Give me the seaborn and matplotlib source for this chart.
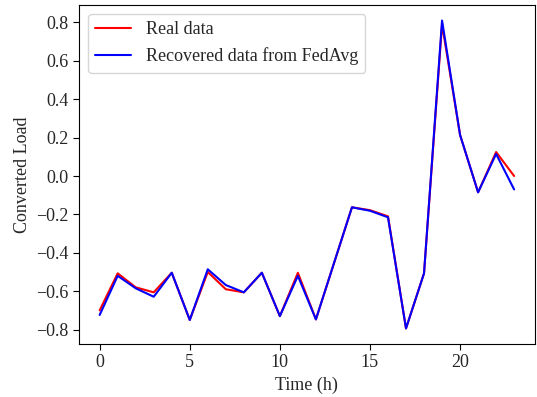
import numpy as np
import pandas as pd
import matplotlib
matplotlib.use("Agg")
import matplotlib.pyplot as plt
import seaborn as sns

hours = list(range(24))
real_data = [-0.70, -0.507, -0.58, -0.606, -0.504, -0.75, -0.50, -0.59, -0.606, -0.504,
             -0.73, -0.504, -0.747, -0.455, -0.163, -0.178, -0.21, -0.794, -0.507, 0.79,
             0.214, -0.085, 0.125, 0.0]
recovered = [-0.724, -0.52, -0.585, -0.629, -0.504, -0.75, -0.486, -0.568, -0.606, -0.504,
             -0.73, -0.52, -0.747, -0.455, -0.163, -0.181, -0.215, -0.794, -0.507, 0.81,
             0.214, -0.085, 0.115, -0.07]
series_names = ["Real data", "Recovered data from FedAvg"]

df = pd.DataFrame({
    "Time (h)": hours * 2,
    "Converted Load": real_data + recovered,
    "series": [series_names[0]] * 24 + [series_names[1]] * 24,
})

sns.set_style("ticks")
plt.rcParams['font.family'] = ['Liberation Serif', 'DejaVu Serif']
plt.rcParams['font.size'] = 13

fig = plt.figure(figsize=(5.37, 3.97), dpi=100)
ax = fig.add_axes([0.147, 0.134, 0.849, 0.853])
sns.lineplot(data=df, x="Time (h)", y="Converted Load", hue="series",
             palette=["red", "blue"], linewidth=1.5, ax=ax)
ax.set_xticks([0, 5, 10, 15, 20])
ax.set_yticks([-0.8, -0.6, -0.4, -0.2, 0.0, 0.2, 0.4, 0.6, 0.8])
ax.tick_params(labelsize=13, direction="out", length=4, color="black")
for s in ax.spines.values():
    s.set_color("black")
    s.set_linewidth(0.8)
ax.set_xlabel("Time (h)", fontsize=13)
ax.set_ylabel("Converted Load", fontsize=13)
leg = ax.legend(loc="upper left", fontsize=13, title=None)
fig.savefig("out.png", dpi=100)
